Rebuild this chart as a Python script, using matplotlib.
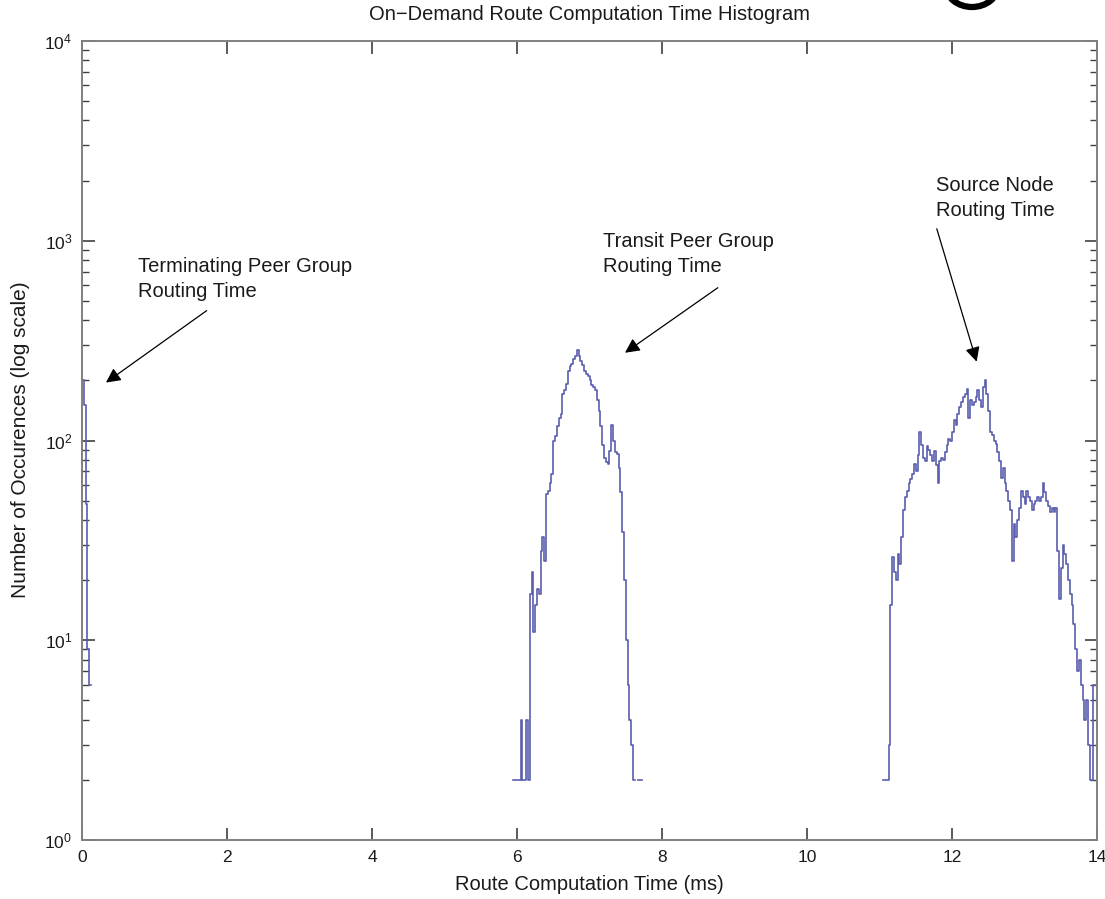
import numpy as np
import matplotlib
matplotlib.use("Agg")
import matplotlib.pyplot as plt
from matplotlib.patches import Arc
from matplotlib.ticker import LogLocator, FixedLocator, NullFormatter

plt.rcParams['font.family'] = ['Liberation Sans', 'DejaVu Sans']
plt.rcParams['mathtext.fontset'] = 'custom'
plt.rcParams['mathtext.rm'] = 'Liberation Sans'
plt.rcParams['mathtext.it'] = 'Liberation Sans'

# ---------------- data (histogram counts, bin width 0.025 ms) ----------------
bin_w = 0.025

term_start = 0.0
term_counts = [200, 150, 48, 9, 6]

transit_start = 5.950
transit_counts = [2, 2, 2, 2, 4, 2, 2, 4, 2, 17, 22, 11, 15, 18, 17, 28, 33, 25,
                  54, 56, 61, 68, 100, 105, 118, 130, 136, 171, 180, 192, 224,
                  235, 242, 255, 265, 285, 265, 250, 240, 224, 215, 210, 200,
                  190, 186, 178, 160, 140, 118, 95, 82, 78, 76, 89, 119, 100,
                  88, 86, 73, 55, 35, 20, 10, 6, 4, 3, 2, 0, 0, 2, 2]

source_start = 11.050
source_counts = [2, 2, 2, 3, 15, 26, 22, 20, 27, 24,
                 33, 45, 52, 56, 61, 64, 68, 76, 70, 85,
                 110, 95, 82, 79, 94, 90, 85, 79, 89, 75,
                 61, 79, 82, 80, 88, 95, 102, 100, 110, 126,
                 120, 135, 147, 155, 165, 170, 182, 130, 160, 150,
                 155, 165, 178, 160, 147, 185, 200, 170, 140, 110,
                 106, 100, 96, 88, 79, 65, 73, 61, 56, 50,
                 45, 25, 38, 33, 40, 46, 56, 52, 48, 56,
                 52, 50, 45, 48, 50, 52, 50, 52, 61, 55,
                 50, 47, 44, 46, 44, 46, 28, 16, 23, 30,
                 27, 24, 20, 17, 15, 12, 9, 7, 8, 6,
                 5, 4, 5, 3, 2, 2, 6, 6]

x_ticks = [0, 2, 4, 6, 8, 10, 12, 14]
x_tick_labels = ['0', '2', '4', '6', '8', '10', '12', '14']

title = 'On\u2212Demand Route Computation Time Histogram'
xlabel = 'Route Computation Time (ms)'
ylabel = 'Number of Occurences (log scale)'

annotations = [
    # text, text pos (x, y), arrow tail (x, y), arrow tip (x, y)
    ('Terminating Peer Group\nRouting Time', (0.77, 830), (1.72, 447), (0.33, 195)),
    ('Transit Peer Group\nRouting Time', (7.19, 1110), (8.77, 582), (7.49, 275)),
    ('Source Node\nRouting Time', (11.78, 2100), (11.79, 1148), (12.34, 248)),
]

# ---------------- figure ----------------
W, H = 1105, 899
fig = plt.figure(figsize=(W / 100, H / 100), dpi=100)
ax = fig.add_axes([82 / W, 59 / H, 1015 / W, 799 / H])

line_color = '#5a5eae'
for start, counts in [(term_start, term_counts),
                      (transit_start, transit_counts),
                      (source_start, source_counts)]:
    c = np.array(counts, dtype=float)
    c[c <= 0] = np.nan
    xs = start + bin_w * np.arange(len(c) + 1)
    ys = np.append(c, c[-1])
    ax.step(xs, ys, where='post', color=line_color, lw=1.2)

ax.set_yscale('log')
ax.set_xlim(0, 14)
ax.set_ylim(1, 1e4)
ax.xaxis.set_major_locator(FixedLocator(x_ticks))
ax.set_xticklabels(x_tick_labels)
ax.yaxis.set_major_locator(LogLocator(base=10, numticks=10))
ax.yaxis.set_minor_locator(LogLocator(base=10, subs=np.arange(2, 10), numticks=20))
ax.yaxis.set_minor_formatter(NullFormatter())

spine_c = '#808080'
for s in ax.spines.values():
    s.set_color(spine_c)
    s.set_linewidth(1.4)
ax.tick_params(which='both', direction='in', top=True, right=True,
               color='#404040', labelsize=12.5, labelcolor='#1a1a1a')
ax.tick_params(which='major', length=9, width=1.2, pad=7)
ax.tick_params(which='minor', length=5, width=1.0)

fig.text(589.5 / W, 1 - 14 / H, title, ha='center', va='center',
         fontsize=14.5, color='#1a1a1a')
fig.text(589.5 / W, 1 - 884 / H, xlabel, ha='center', va='center',
         fontsize=14.5, color='#1a1a1a')
fig.text(21 / W, 1 - 440 / H, ylabel, ha='center', va='center',
         rotation=90, fontsize=15, color='#1a1a1a')

for txt, tpos, tail, tip in annotations:
    ax.text(tpos[0], tpos[1], txt, ha='left', va='top', fontsize=14.5,
            color='#1a1a1a', linespacing=1.4)
    ax.annotate('', xy=tip, xytext=tail,
                arrowprops=dict(arrowstyle='-|>', color='black', lw=0.9,
                                mutation_scale=22, shrinkA=0, shrinkB=0))

# hand-drawn mark at top edge of the scanned page
fig.add_artist(Arc((972 / W, 1 + 14 / H), 52 / W, 42 / H, theta1=180,
                   theta2=360, transform=fig.transFigure, lw=4.5,
                   color='black', clip_on=False))

fig.savefig('out.png', dpi=100, facecolor='white')
